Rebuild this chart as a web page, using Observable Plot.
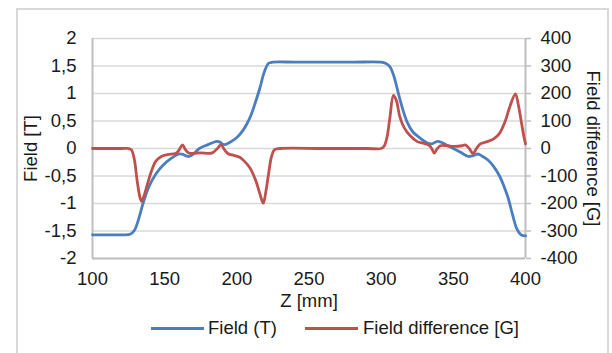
<!DOCTYPE html>
<html><head><meta charset="utf-8">
<script src="https://cdn.jsdelivr.net/npm/d3@7"></script>
<script src="https://cdn.jsdelivr.net/npm/@observablehq/plot@0.6"></script>
<style>
body{margin:0;background:#fff;font-family:"Liberation Sans",Arial,sans-serif;}
#wrap{position:relative;width:612px;height:353px;overflow:hidden;background:#fff;}
#border{position:absolute;left:16px;top:8px;width:593px;height:370px;border:2px solid #d9d9d9;box-sizing:border-box;}
#chart{position:absolute;left:0;top:0;}
.sw{position:absolute;height:3px;top:327px;width:53px;}
.lt{position:absolute;top:317px;font-size:18.5px;line-height:22px;color:#1a1a1a;white-space:nowrap;}
</style></head>
<body>
<div id="wrap"><div id="border"></div><div id="chart"></div>
<div class="sw" style="left:151px;background:#4a7ebf"></div><div class="lt" style="left:208px">Field (T)</div>
<div class="sw" style="left:305px;background:#c0504d"></div><div class="lt" style="left:363px">Field difference [G]</div>
</div>
<script>
// Field (T) vs Z (mm)
const fieldZ = [100,110,120,126,129,132,135,139,144,149,154,160,163,166,169,174,180,186,188,191,195,200,204,207,210,213,216,219,222,225,240,260,280,300,303,306,309,311,314,318,322,327,332,335,339,342,346,350,355,359,361,364,367,370,374,378,382,385,388,391,394,397,400];
const fieldT = [-1.57,-1.57,-1.57,-1.56,-1.49,-1.28,-1.00,-0.70,-0.46,-0.30,-0.19,-0.10,-0.11,-0.145,-0.12,0.0,0.07,0.13,0.12,0.07,0.11,0.20,0.32,0.45,0.62,0.85,1.10,1.39,1.55,1.57,1.57,1.57,1.57,1.57,1.55,1.49,1.30,1.10,0.80,0.48,0.30,0.19,0.10,0.085,0.13,0.11,0.055,0.0,-0.07,-0.13,-0.145,-0.13,-0.10,-0.14,-0.21,-0.33,-0.50,-0.68,-0.90,-1.20,-1.46,-1.57,-1.59];
// Field difference [G] vs Z (mm)
const diffZ = [100,120,125,127,129,131,133,134,135.5,137.5,141,144,148,152,158,160,162.3,164.5,167,175,183,186.5,189,191.5,194,198,202,205,209,213,216,218.3,220,222,224,226,230,260,290,300,302,304,306,308.5,310.5,313,316,320,325,330,333,335,336.8,338.5,341,346,350,356,358.3,361,363.7,366,368.7,373,378,382,386,389,393,395,397,399,400];
const diffG = [0,0,0,-5,-40,-120,-180,-192,-175,-140,-80,-45,-28,-22,-17,-5,13,-5,-17,-16,-16,0,13,-5,-19,-25,-32,-45,-70,-115,-165,-199,-160,-92,-30,-5,0,0,0,0,8,40,110,193,175,114,75,47,25,18,12,0,-17,-3,10,10,8,10,13,0,-19,0,17,24,35,55,100,150,199,160,100,40,17];
const yTicks = [-2,-1.5,-1,-0.5,0,0.5,1,1.5,2];
const xTicks = [100,150,200,250,300,350,400];
const gPerT = 200;

const field = fieldZ.map((z,i)=>({z, v:fieldT[i]}));
const diff = diffZ.map((z,i)=>({z, v:diffG[i]/gPerT}));
const fmt = d => String(d).replace(".", ",");
const gray = "#bfbfbf";

const chart = Plot.plot({
  width: 612, height: 300,
  marginLeft: 92, marginRight: 87, marginTop: 38, marginBottom: 42,
  style: {fontSize: "18.5px", fontFamily: "'Liberation Sans', Arial, sans-serif", color: "#1a1a1a", background: "transparent", overflow: "visible"},
  x: {domain: [100, 400]},
  y: {domain: [-2, 2]},
  marks: [
    Plot.gridY(yTicks, {stroke: "#d9d9d9", strokeOpacity: 1, strokeWidth: 1.3}),
    Plot.ruleX([100, 400], {stroke: gray, strokeWidth: 2}),
    Plot.ruleY([-2], {stroke: gray, strokeWidth: 2}),
    Plot.axisY(yTicks, {anchor: "left", tickSize: 0, tickPadding: 16, tickFormat: fmt, label: null}),
    Plot.axisY(yTicks, {anchor: "right", tickSize: 5, tickPadding: 10, stroke: gray, strokeWidth: 1.5, tickFormat: d => String(Math.round(d * gPerT)), label: null}),
    Plot.axisX(xTicks, {anchor: "bottom", tickSize: 0, tickPadding: 13, tickFormat: d => String(d), label: null}),
    Plot.line(field, {x: "z", y: "v", stroke: "#4a7ebf", strokeWidth: 2.8, curve: "catmull-rom"}),
    Plot.line(diff, {x: "z", y: "v", stroke: "#c0504d", strokeWidth: 2.8, curve: "catmull-rom"}),
    Plot.text(["Field [T]"], {frameAnchor: "left", dx: -61, rotate: -90, textAnchor: "middle", fill: "#1a1a1a"}),
    Plot.text(["Field difference [G]"], {frameAnchor: "right", dx: 67, rotate: 90, textAnchor: "middle", fill: "#1a1a1a"}),
    Plot.text(["Z [mm]"], {frameAnchor: "bottom", dy: 48, fill: "#1a1a1a"})
  ]
});
document.getElementById("chart").append(chart);
</script>
</body></html>
